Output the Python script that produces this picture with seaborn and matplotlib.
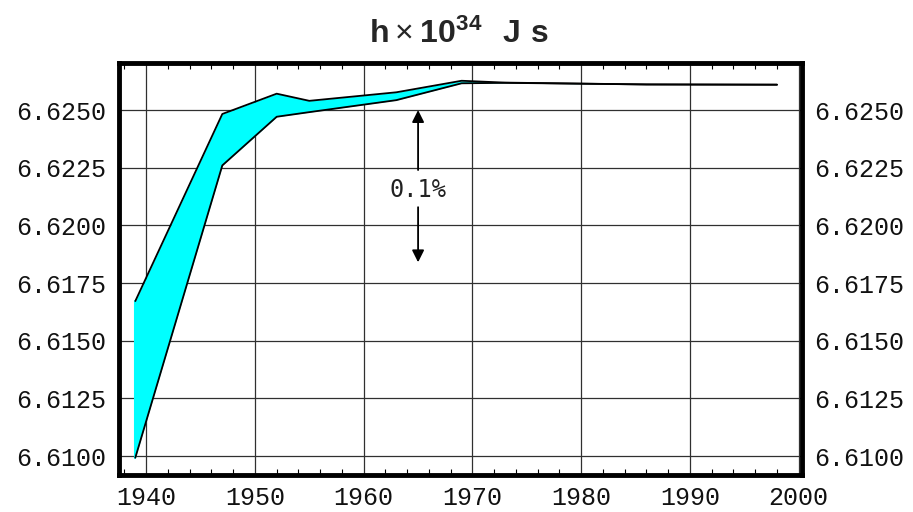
import matplotlib
matplotlib.use("Agg")
import matplotlib.pyplot as plt
import seaborn as sns
import pandas as pd
from matplotlib.ticker import MultipleLocator, FixedLocator

# Data (h x 10^34 J s)
years = [1939, 1947, 1952, 1955, 1963, 1969, 1973, 1986, 1998]
upper = [6.61672, 6.62483, 6.62571, 6.62540, 6.62577, 6.62627, 6.62619, 6.62611, 6.62610]
lower = [6.60993, 6.62260, 6.62471, 6.62491, 6.62543, 6.62616, 6.62618, 6.62611, 6.62610]
x_ticks = [1940, 1950, 1960, 1970, 1980, 1990, 2000]
y_ticks = [6.6100, 6.6125, 6.6150, 6.6175, 6.6200, 6.6225, 6.6250]
y_labels = ["6.6100", "6.6125", "6.6150", "6.6175", "6.6200", "6.6225", "6.6250"]
arrow_year = 1965
arrow_top = 6.6250
arrow_bottom = 6.6184
title = r"$\mathbf{h}\times\mathbf{10^{34}}\ \ \mathbf{J\ s}$"

sns.set_style("white")
plt.rcParams["mathtext.fontset"] = "custom"
plt.rcParams["mathtext.rm"] = "Liberation Sans"
plt.rcParams["mathtext.bf"] = "Liberation Sans:bold"
plt.rcParams["font.family"] = ["Liberation Mono", "DejaVu Sans Mono"]

df = pd.DataFrame({"year": years, "upper": upper, "lower": lower})

fig = plt.figure(figsize=(9.13, 5.12), dpi=100)
ax = fig.add_axes([119 / 913, 1 - 475 / 512, (802 - 119) / 913, (475 - 63) / 512])

ax.fill_between(df["year"], df["lower"], df["upper"], color="#00FFFF", linewidth=0, zorder=2)
sns.lineplot(data=df, x="year", y="upper", ax=ax, color="black", linewidth=1.3, zorder=3)
sns.lineplot(data=df, x="year", y="lower", ax=ax, color="black", linewidth=1.3, zorder=3)
ax.plot([years[0], years[0]], [lower[0], upper[0]], color="#00FFFF", linewidth=1.5, zorder=2)

ax.set_xlim(1937.5, 2000.3)
ax.set_ylim(6.60918, 6.62704)
ax.xaxis.set_major_locator(FixedLocator(x_ticks))
ax.xaxis.set_minor_locator(MultipleLocator(2))
ax.set_yticks(y_ticks)
ax.set_yticklabels(y_labels)
ax.set_xticklabels([str(t) for t in x_ticks])
ax.grid(True, which="major", color="#303030", linewidth=0.9, zorder=1)
ax.set_axisbelow(True)

ax.tick_params(axis="both", which="major", length=0, labelsize=18, pad=8, labelcolor="#111111")
ax.tick_params(axis="y", labelright=True, pad=9)
ax.tick_params(axis="x", which="minor", direction="in", length=4, width=0.8,
               top=True, bottom=True, color="black")
ax.set_xlabel("")
ax.set_ylabel("")

for s in ax.spines.values():
    s.set_linewidth(3.5)
    s.set_color("black")
    s.set_visible(True)

# 0.1% annotation
arrow_props = dict(arrowstyle="-|>", color="black", lw=1.3, mutation_scale=18,
                   shrinkA=0, shrinkB=0)
ax.annotate("", xy=(arrow_year, arrow_top), xytext=(arrow_year, 6.62240),
            arrowprops=arrow_props, zorder=4)
ax.annotate("", xy=(arrow_year, arrow_bottom), xytext=(arrow_year, 6.62079),
            arrowprops=arrow_props, zorder=4)
ax.text(arrow_year, 6.62155, "0.1%", ha="center", va="center", fontsize=17,
        family="DejaVu Sans Mono", color="#222222", zorder=4)

fig.text(459 / 913, 1 - 34 / 512, title, ha="center", va="center", fontsize=23)

fig.savefig("out.png", dpi=100, facecolor="white")
